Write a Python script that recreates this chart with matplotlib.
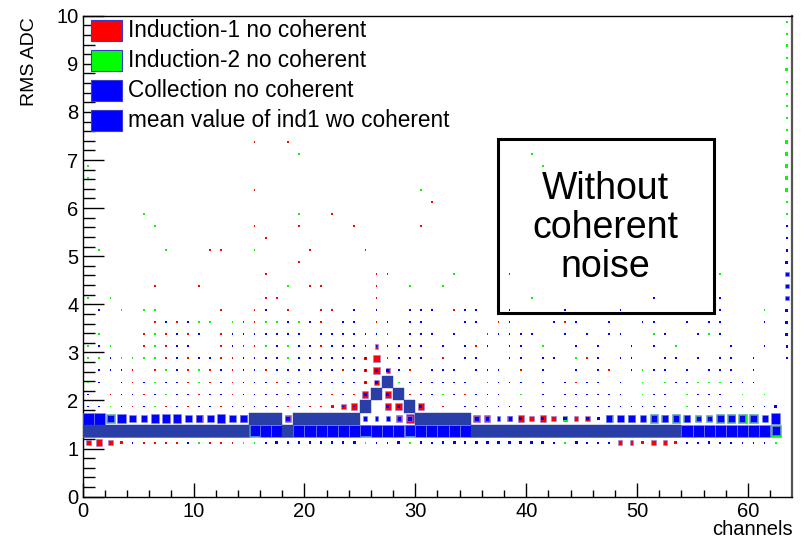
import numpy as np
import matplotlib
matplotlib.use("Agg")
import matplotlib.pyplot as plt
from matplotlib.patches import Rectangle
from matplotlib.collections import PatchCollection

plt.rcParams['font.family'] = ['Liberation Sans', 'DejaVu Sans']

# histogram binning: 64 channels, RMS 0-10 ADC in 0.25 bins
channel_edges = np.arange(0, 65, 1)
rms_edges = np.arange(0, 10.25, 0.25)
full_count = 40   # bin content drawn as a full box

# counts per RMS bin index -> {channel: entries}
ind1_counts = {
    4: {0: 8, 1: 12, 2: 8, 3: 3, 5: 1, 6: 1, 7: 1, 8: 1, 11: 1, 12: 1, 13: 1, 18: 2,
        45: 1, 47: 1, 48: 5, 49: 5, 50: 3, 51: 8, 52: 5, 53: 3},
    6: {10: 16, 14: 16, 18: 12, 28: 12, 29: 22, 35: 16, 36: 12, 38: 8, 39: 12, 40: 8,
        41: 12, 42: 8, 43: 5, 44: 5, 45: 8},
    7: {4: 1, 7: 1, 9: 1, 12: 1, 18: 1, 20: 1, 21: 1, 22: 3, 23: 8, 24: 12, 27: 12,
        28: 16, 30: 12, 32: 1, 36: 1},
    8: {2: 1, 5: 1, 7: 1, 10: 1, 13: 1, 22: 1, 24: 1, 25: 12, 27: 12, 29: 1, 34: 1},
    9: {4: 1, 9: 1, 11: 1, 13: 1, 14: 1, 17: 1, 18: 1, 25: 2, 26: 8, 28: 1, 36: 1, 44: 1},
    10: {4: 1, 6: 1, 9: 1, 11: 1, 13: 1, 16: 1, 23: 1, 25: 2, 26: 12, 27: 5, 29: 1,
         39: 1, 47: 1},
    11: {7: 1, 9: 1, 12: 1, 13: 1, 25: 2, 26: 12, 27: 1, 32: 1, 45: 1},
    12: {5: 1, 7: 1, 12: 1, 14: 1, 15: 1, 21: 1, 25: 1, 26: 5, 35: 1},
    13: {5: 1, 7: 1, 9: 1, 12: 1, 27: 1, 36: 1},
    14: {6: 1, 8: 1, 14: 1, 15: 1, 21: 1, 26: 1, 37: 1, 43: 1},
    15: {12: 1, 15: 1, 18: 1, 21: 1, 22: 1, 29: 1, 33: 1},
    16: {16: 1, 17: 1, 26: 1},
    17: {6: 1, 10: 1, 20: 1, 21: 1, 26: 1},
    18: {16: 1, 26: 1, 27: 1, 38: 1},
    19: {19: 1},
    20: {11: 1, 12: 1, 20: 1, 25: 1},
    21: {16: 1},
    22: {15: 1, 19: 1, 24: 1, 30: 1},
    23: {22: 1},
    24: {31: 1},
    25: {15: 1},
    29: {15: 1, 18: 1},
}

ind2_counts = {
    4: {10: 1, 14: 1, 15: 1, 25: 1, 29: 1, 43: 1, 62: 1},
    5: {15: 40, 25: 40, 29: 40, 62: 40},
    6: {2: 22, 43: 5, 47: 16, 49: 12, 51: 22, 52: 16, 53: 22, 54: 16, 55: 12, 56: 12,
        57: 22, 58: 22, 59: 22, 60: 22},
    7: {2: 1, 6: 1, 54: 1},
    8: {7: 1, 32: 1, 39: 1, 50: 1, 54: 1, 59: 1, 61: 1},
    9: {0: 1, 3: 1, 6: 1, 7: 1, 10: 1, 28: 1, 50: 1, 52: 1, 55: 1, 56: 1, 57: 1},
    10: {7: 1, 10: 1, 50: 1},
    11: {0: 1, 1: 1, 3: 1, 4: 1, 5: 1, 6: 1, 18: 1, 44: 1},
    12: {0: 1, 2: 1, 6: 1, 16: 1, 18: 1, 41: 1, 53: 1},
    13: {1: 1, 6: 1, 51: 1, 56: 1},
    14: {10: 1, 11: 1, 13: 1, 16: 1, 17: 1, 19: 1},
    15: {3: 1, 5: 1, 6: 1, 61: 1},
    16: {0: 1, 2: 1, 40: 1},
    17: {18: 1, 29: 1, 32: 1},
    18: {33: 1, 57: 1},
    20: {1: 1, 7: 1, 15: 1},
    22: {6: 1},
    23: {5: 1, 19: 1, 63: 1},
    24: {63: 2},
    25: {30: 1, 63: 3},
    26: {0: 1, 63: 3},
    27: {0: 1, 41: 1, 63: 3},
    28: {19: 1, 40: 1, 63: 3},
    29: {63: 3},
    30: {63: 2},
    31: {63: 1},
    32: {63: 1},
    33: {63: 1},
    34: {63: 1},
    35: {63: 3},
    36: {63: 1},
    37: {63: 2},
    38: {63: 1},
    39: {63: 1},
}

coll_counts = {
    4: {4: 1, 9: 1, 16: 1, 17: 2, 18: 1, 19: 2, 20: 2, 21: 2, 22: 2, 23: 2, 24: 2,
        26: 1, 27: 1, 28: 3, 30: 2, 31: 1, 32: 2, 33: 3, 34: 2, 35: 2, 36: 2, 37: 2,
        38: 3, 39: 3, 40: 3, 41: 3, 42: 1, 44: 3, 45: 1, 46: 1, 47: 1, 54: 1, 55: 1,
        56: 2, 57: 1, 58: 1, 59: 1, 60: 1, 61: 1},
    5: {0: 40, 1: 40, 2: 40, 3: 40, 4: 40, 5: 40, 6: 40, 7: 40, 8: 40, 9: 40,
        10: 40, 11: 40, 12: 40, 13: 40, 14: 40, 15: 32, 16: 40, 17: 40, 18: 40, 19: 40,
        20: 40, 21: 40, 22: 40, 23: 40, 24: 40, 25: 34, 26: 40, 27: 40, 28: 40, 29: 34,
        30: 40, 31: 40, 32: 40, 33: 40, 34: 40, 35: 40, 36: 40, 37: 40, 38: 40, 39: 40,
        40: 40, 41: 40, 42: 40, 43: 40, 44: 40, 45: 40, 46: 40, 47: 40, 48: 40, 49: 40,
        50: 40, 51: 40, 52: 40, 53: 40, 54: 40, 55: 40, 56: 40, 57: 40, 58: 40, 59: 40,
        60: 40, 61: 40, 62: 22},
    6: {0: 40, 1: 40, 2: 16, 3: 22, 4: 16, 5: 12, 6: 22, 7: 22, 8: 22, 9: 16, 10: 12,
        11: 16, 12: 22, 13: 16, 14: 12, 18: 8, 25: 5, 26: 5, 27: 5, 28: 5, 29: 8,
        35: 8, 36: 5, 37: 5, 38: 5, 39: 3, 41: 3, 43: 3, 45: 3, 46: 3, 47: 12, 48: 16,
        49: 12, 50: 12, 51: 12, 52: 12, 53: 12, 54: 12, 55: 8, 56: 8, 57: 16, 58: 16,
        59: 12, 60: 12, 61: 12, 62: 30},
    7: {0: 1, 1: 1, 3: 1, 5: 1, 8: 1, 10: 1, 11: 1, 13: 1, 14: 1, 15: 1, 16: 1, 17: 1,
        19: 1, 23: 1, 24: 1, 27: 3, 28: 3, 30: 3, 34: 1, 35: 1, 36: 1, 37: 1, 38: 1,
        39: 1, 41: 1, 42: 1, 43: 1, 44: 1, 45: 1, 46: 1, 47: 1, 48: 1, 49: 1, 50: 1,
        51: 1, 52: 1, 55: 1, 56: 1, 57: 1, 58: 1, 59: 1, 60: 1, 61: 1, 62: 2},
    8: {0: 1, 3: 1, 4: 1, 6: 1, 8: 1, 9: 1, 11: 1, 12: 1, 14: 1, 15: 1, 16: 1, 17: 1,
        18: 1, 19: 1, 20: 1, 21: 1, 23: 1, 25: 2, 27: 2, 30: 1, 31: 1, 33: 1, 35: 1,
        36: 1, 37: 1, 41: 1, 43: 1, 44: 1, 45: 1, 46: 1, 47: 1, 48: 1, 51: 1, 52: 1,
        55: 1, 56: 1, 57: 1},
    9: {1: 1, 3: 1, 5: 1, 7: 1, 8: 1, 12: 1, 14: 1, 15: 1, 16: 1, 18: 1, 19: 1, 20: 1,
        21: 1, 22: 1, 23: 1, 24: 1, 25: 1, 26: 3, 29: 1, 30: 1, 31: 1, 32: 1, 33: 1,
        34: 1, 37: 1, 38: 1, 39: 1, 41: 1, 43: 1, 45: 1, 46: 1, 48: 1, 53: 1, 54: 1,
        58: 1, 59: 1, 60: 1},
    10: {1: 1, 2: 1, 3: 1, 8: 1, 12: 1, 14: 1, 15: 1, 17: 1, 18: 1, 19: 1, 20: 1,
         21: 1, 22: 1, 24: 1, 25: 1, 26: 3, 27: 2, 28: 1, 31: 1, 32: 1, 33: 1, 35: 1,
         36: 1, 37: 1, 41: 1, 44: 1, 46: 1, 49: 1, 51: 1, 52: 1, 54: 1, 56: 1, 57: 1,
         58: 1, 60: 1},
    11: {2: 1, 8: 1, 10: 1, 11: 1, 14: 1, 15: 1, 16: 1, 17: 1, 19: 1, 20: 1, 21: 1,
         22: 1, 23: 1, 24: 1, 25: 1, 28: 1, 29: 1, 30: 1, 34: 1, 35: 1, 38: 1, 39: 1,
         41: 1, 42: 1, 46: 1, 48: 1, 49: 1, 52: 1, 53: 1, 55: 1, 57: 1, 58: 1, 60: 1,
         63: 1},
    12: {1: 1, 8: 1, 9: 1, 13: 1, 17: 1, 19: 1, 20: 1, 22: 1, 23: 1, 24: 1, 25: 1,
         26: 1, 27: 1, 28: 1, 29: 1, 30: 1, 32: 1, 34: 1, 36: 1, 38: 1, 39: 1, 44: 1,
         46: 1, 49: 1, 51: 1, 58: 1, 61: 1, 63: 2},
    13: {8: 1, 10: 1, 13: 1, 14: 1, 15: 1, 16: 1, 17: 1, 18: 1, 19: 1, 21: 1, 22: 1,
         23: 1, 24: 1, 25: 1, 26: 1, 29: 1, 30: 1, 31: 1, 33: 1, 37: 1, 38: 1, 39: 1,
         40: 1, 43: 1, 45: 1, 47: 1, 48: 1, 52: 1, 55: 1, 57: 1, 63: 3},
    14: {7: 1, 9: 1, 18: 1, 20: 1, 23: 1, 24: 1, 27: 1, 29: 1, 30: 1, 34: 1, 35: 1,
         38: 1, 42: 1, 44: 1, 47: 1, 50: 1, 51: 1, 54: 1, 56: 1, 57: 1, 61: 1, 63: 3},
    15: {1: 1, 16: 1, 24: 1, 26: 1, 29: 1, 30: 1, 31: 1, 34: 1, 35: 1, 38: 1, 43: 1,
         48: 1, 57: 1, 63: 3},
    16: {51: 1, 57: 1, 63: 5},
    17: {63: 5},
    18: {63: 5},
    19: {63: 3},
    20: {63: 2},
    21: {63: 1},
    22: {63: 1},
}

# mean RMS of induction-1 per channel (channels 0-53)
ind1_mean = [1.4, 1.4, 1.4, 1.4, 1.4, 1.4, 1.4, 1.4, 1.4, 1.4,
             1.4, 1.4, 1.4, 1.4, 1.4, 1.6, 1.6, 1.6, 1.4, 1.6,
             1.6, 1.6, 1.6, 1.6, 1.6, 1.85, 2.1, 2.35, 2.1, 1.85,
             1.6, 1.6, 1.6, 1.6, 1.6, 1.4, 1.4, 1.4, 1.4, 1.4,
             1.4, 1.4, 1.4, 1.4, 1.4, 1.4, 1.4, 1.4, 1.4, 1.4,
             1.4, 1.4, 1.4, 1.4]

legend_labels = ["Induction-1 no coherent", "Induction-2 no coherent",
                 "Collection no coherent", "mean value of ind1 wo coherent"]
legend_colors = ['#ff0000', '#00ff00', '#0000ff', '#0000ff']


def draw_boxes(ax, counts, color, z):
    big, small = [], []
    for j, row in counts.items():
        y0, y1 = rms_edges[j], rms_edges[j + 1]
        for ch, c in row.items():
            x0, x1 = channel_edges[ch], channel_edges[ch + 1]
            f = np.sqrt(c / full_count)
            w, h = (x1 - x0) * f, (y1 - y0) * f
            r = Rectangle(((x0 + x1 - w) / 2, (y0 + y1 - h) / 2), w, h)
            (big if c >= 5 else small).append(r)
    ax.add_collection(PatchCollection(small, facecolor=color, edgecolor='none',
                                      zorder=z))
    ax.add_collection(PatchCollection(big, facecolor=color, edgecolor='#8088ec',
                                      linewidth=0.4, zorder=z))


fig = plt.figure(figsize=(8.06, 5.40), dpi=100)
ax = fig.add_axes([0.1026, 0.0802, 0.8804, 0.8907])

draw_boxes(ax, ind1_counts, '#ff0000', 2)
draw_boxes(ax, ind2_counts, '#00ff00', 3)
draw_boxes(ax, coll_counts, '#0000ff', 4)

# mean value boxes (full bins)
mean_rects = []
for ch, v in enumerate(ind1_mean):
    j = np.searchsorted(rms_edges, v) - 1
    mean_rects.append(Rectangle((channel_edges[ch], rms_edges[j]), 1, rms_edges[j + 1] - rms_edges[j]))
ax.add_collection(PatchCollection(mean_rects, facecolor='#2a3ea8', edgecolor='#2a3ea8',
                                  linewidth=0.3, zorder=5))

ax.set_xlim(0, 64)
ax.set_ylim(0, 10)
ax.set_xticks(np.arange(0, 61, 10))
ax.set_xticks(np.arange(0, 64, 2), minor=True)
ax.set_yticks(np.arange(0, 11, 1))
ax.set_yticks(np.arange(0, 10.01, 0.2), minor=True)
ax.tick_params(axis='x', which='major', direction='in', length=10, width=1,
               labelsize=14.5, pad=4)
ax.tick_params(axis='x', which='minor', direction='in', length=5, width=1)
ax.tick_params(axis='y', which='major', direction='in', length=15, width=1,
               labelsize=14.5, pad=3)
ax.tick_params(axis='y', which='minor', direction='in', length=8.4, width=1)
for s in ax.spines.values():
    s.set_linewidth(1.0)
ax.spines['right'].set_color('#555555')
ax.spines['right'].set_linewidth(1.6)

ax.text(-0.075, 0.997, "RMS ADC", transform=ax.transAxes, rotation=90,
        ha='center', va='top', fontsize=14)
ax.text(1.0, -0.069, "channels", transform=ax.transAxes, ha='right', va='center',
        fontsize=14.5)

# legend (no frame)
for i, (lab, col) in enumerate(zip(legend_labels, legend_colors)):
    yc = 1 - (30.5 + 30 * i - 15.7) / 481.0
    ax.add_patch(Rectangle((0.0117, yc - 0.0215), 0.0437, 0.043, transform=ax.transAxes,
                           facecolor=col, edgecolor='#3a3ad0', linewidth=0.8,
                           zorder=10, clip_on=False))
    ax.text(0.064, yc, lab, transform=ax.transAxes, ha='left', va='center',
            fontsize=16.3, zorder=10)

# text box
ax.add_patch(Rectangle((0.5846, 0.3819), 0.3051, 0.3618, transform=ax.transAxes,
                       fill=False, edgecolor='black', linewidth=2.2, zorder=11))
ax.text(0.7371, 0.5586, "Without\ncoherent\nnoise", transform=ax.transAxes,
        ha='center', va='center', fontsize=27, linespacing=1.12, zorder=11)

fig.savefig("out.png", dpi=100)
